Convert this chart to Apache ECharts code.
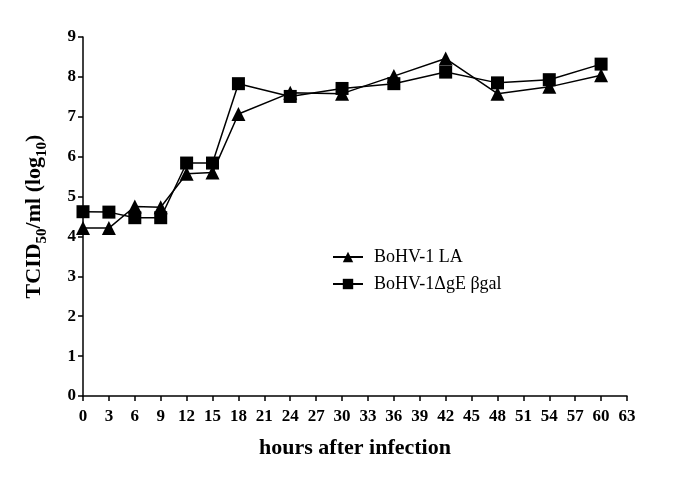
<!DOCTYPE html>
<html><head><meta charset="utf-8">
<script src="https://cdn.jsdelivr.net/npm/echarts@6/dist/echarts.min.js"></script>
<style>html,body{margin:0;padding:0;background:#fff}#c{width:685px;height:478px}</style>
</head><body><div id="c"></div>
<script>
var hours = [0, 3, 6, 9, 12, 15, 18, 24, 30, 36, 42, 48, 54, 60];
var seriesLA = [4.21, 4.21, 4.75, 4.73, 5.57, 5.6, 7.07, 7.6, 7.58, 8.02, 8.46, 7.58, 7.75, 8.04];
var seriesGE = [4.62, 4.61, 4.47, 4.47, 5.84, 5.84, 7.83, 7.51, 7.71, 7.83, 8.12, 7.85, 7.93, 8.32];
var seriesNames = ['BoHV-1 LA', 'BoHV-1\u0394gE \u03b2gal'];

function pairs(xs, ys){ return xs.map(function(x,i){return [x, ys[i]];}); }
var font = 'Liberation Serif';
var chart = echarts.init(document.getElementById('c'), null, {renderer:'canvas'});
chart.setOption({
  backgroundColor:'#fff',
  animation:false,
  grid:{left:83, right:58, top:37, bottom:82},
  legend:{
    orient:'vertical', left:327, top:243, itemGap:9, itemWidth:30, itemHeight:13,
    data:seriesNames,
    textStyle:{fontFamily:font, fontSize:18, color:'#000', padding:[0,0,0,6]}
  },
  xAxis:{
    type:'value', min:0, max:63, interval:3,
    name:'hours after infection', nameLocation:'middle', nameGap:41,
    nameTextStyle:{fontFamily:font, fontSize:22, fontWeight:'bold', color:'#000'},
    axisLine:{lineStyle:{color:'#000', width:1.5}},
    axisTick:{length:5, lineStyle:{color:'#000', width:1.5}},
    axisLabel:{fontFamily:font, fontSize:17, fontWeight:'bold', color:'#000', margin:12},
    splitLine:{show:false}
  },
  yAxis:{
    type:'value', min:0, max:9, interval:1,
    name:'{a|TCID}{s|50}{a|/ml (log}{s|10}{a|)}', nameLocation:'middle', nameGap:38, nameRotate:90,
    nameTextStyle:{
      rich:{
        a:{fontFamily:font, fontSize:22, fontWeight:'bold', color:'#000', lineHeight:24, verticalAlign:'bottom'},
        s:{fontFamily:font, fontSize:15, fontWeight:'bold', color:'#000', lineHeight:24, verticalAlign:'bottom', padding:[0,0,-5,0]}
      }
    },
    axisLine:{show:true, lineStyle:{color:'#000', width:1.5}},
    axisTick:{show:true, length:5, lineStyle:{color:'#000', width:1.5}},
    axisLabel:{fontFamily:font, fontSize:17, fontWeight:'bold', color:'#000', margin:7},
    splitLine:{show:false}
  },
  series:[
    {name:seriesNames[0], type:'line', data:pairs(hours, seriesLA), symbol:'triangle', symbolSize:14,
     itemStyle:{color:'#000'}, lineStyle:{color:'#000', width:1.5}},
    {name:seriesNames[1], type:'line', data:pairs(hours, seriesGE), symbol:'rect', symbolSize:13,
     itemStyle:{color:'#000'}, lineStyle:{color:'#000', width:1.5}}
  ]
});
</script></body></html>
